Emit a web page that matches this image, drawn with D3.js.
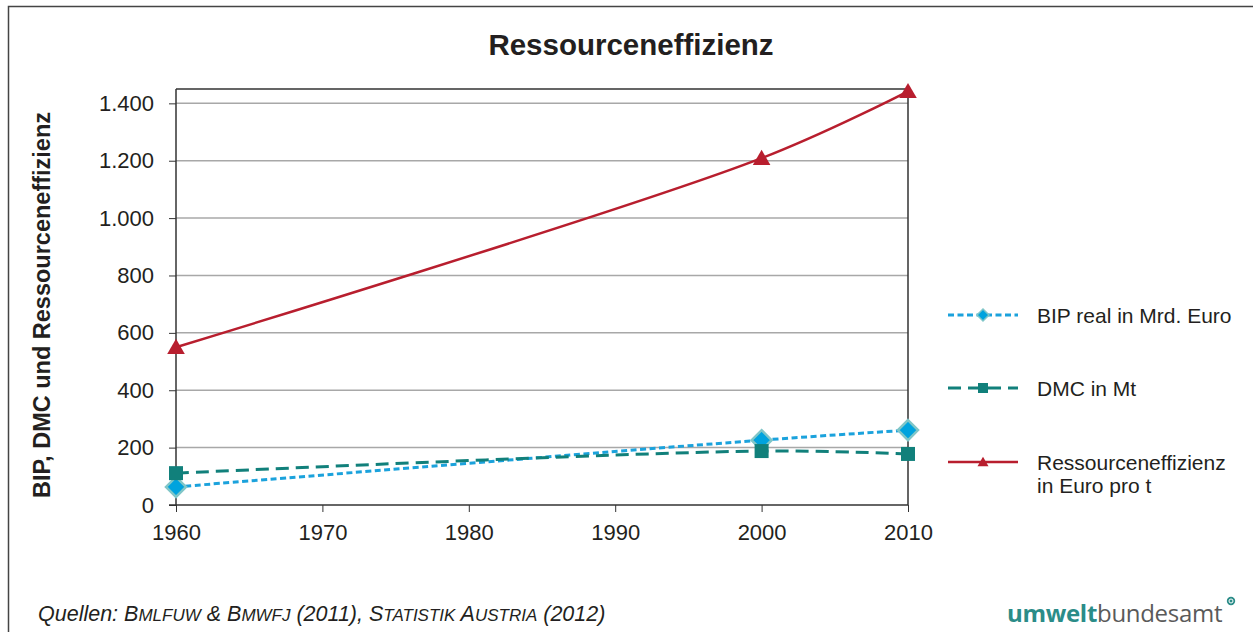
<!DOCTYPE html>
<html>
<head>
<meta charset="utf-8">
<script src="https://cdn.jsdelivr.net/npm/d3@7"></script>
<style>
  body { margin: 0; background: #fff; }
  svg text { font-family: "Liberation Sans", Arial, sans-serif; fill: #231f20; }
</style>
</head>
<body>
<svg id="chart" width="1253" height="632"></svg>
<script>
// Data
var years = [1960, 2000, 2010];
var bipValues = [63, 226, 261];
var dmcValues = [111, 188, 178];
var effValues = [550, 1209, 1442];
var yTicks = [0, 200, 400, 600, 800, 1000, 1200, 1400];
var xTicks = [1960, 1970, 1980, 1990, 2000, 2010];
var seriesNames = ["BIP real in Mrd. Euro", "DMC in Mt", "Ressourceneffizienz"];

var svg = d3.select("#chart");
var plot = { left: 176, right: 908, top: 89, bottom: 505 };

// Colors
var blue = "#1ba2dc";
var blueFill = "#00a3de";
var blueEdge = "#80c6c8";
var teal = "#11807b";
var red = "#b81e2e";
var gridGray = "#a8a8a8";
var axisDark = "#333";

var de = d3.formatLocale({ decimal: ",", thousands: ".", grouping: [3], currency: ["", " €"] });

// Scales
var x = d3.scaleLinear().domain([1960, 2010]).range([plot.left, plot.right]);
var y = d3.scaleLinear().domain([0, 1450]).range([plot.bottom, plot.top]);

// outer frame
svg.append("rect")
   .attr("x", 8.5).attr("y", 6.5)
   .attr("width", 1260).attr("height", 640)
   .style("fill", "none").style("stroke", "#444").style("stroke-width", 1.5);

// title
svg.append("text")
   .text("Ressourceneffizienz")
   .attr("x", 631).attr("y", 55)
   .style("text-anchor", "middle")
   .style("font-size", "29.5px")
   .style("font-weight", "bold");

// gridlines
svg.append("g")
   .selectAll("line")
   .data(yTicks.filter(function(d) { return d > 0; }))
   .enter()
   .append("line")
   .attr("x1", plot.left).attr("x2", plot.right)
   .attr("y1", function(d) { return y(d); })
   .attr("y2", function(d) { return y(d); })
   .style("stroke", gridGray).style("stroke-width", 1.5);

// plot frame top + right
svg.append("path")
   .attr("d", "M" + plot.left + "," + plot.top + "H" + plot.right + "V" + plot.bottom)
   .style("fill", "none").style("stroke", axisDark).style("stroke-width", 1.5);

// axes
var yAxis = svg.append("g")
   .attr("transform", "translate(" + plot.left + ",0)")
   .call(d3.axisLeft(y).tickValues(yTicks).tickSize(7).tickPadding(15).tickFormat(de.format(",")));
var xAxis = svg.append("g")
   .attr("transform", "translate(0," + plot.bottom + ")")
   .call(d3.axisBottom(x).tickValues(xTicks).tickSize(7).tickPadding(12).tickFormat(d3.format("d")));

[yAxis, xAxis].forEach(function(ax) {
  ax.select(".domain").style("stroke", axisDark).style("stroke-width", 1.5);
  ax.selectAll(".tick line").style("stroke", axisDark).style("stroke-width", 1);
  ax.selectAll("text")
    .style("font-size", "22px")
    .style("font-family", "'Liberation Sans', Arial, sans-serif")
    .style("fill", "#231f20");
});
yAxis.select(".domain").attr("d", "M0," + plot.top + "V" + plot.bottom);
xAxis.select(".domain").attr("d", "M" + (plot.left - 7) + ",0H" + plot.right);

// y label
svg.append("text")
   .text("BIP, DMC und Ressourceneffizienz")
   .attr("transform", "translate(50,305) rotate(-90)")
   .style("text-anchor", "middle")
   .style("font-size", "23.5px")
   .style("font-weight", "bold");

// Lines (smoothed like the original)
var line = d3.line()
  .x(function(d) { return x(d.year); })
  .y(function(d) { return y(d.value); })
  .curve(d3.curveCatmullRom.alpha(0.5));

function toPoints(values) {
  return years.map(function(yr, i) { return { year: yr, value: values[i] }; });
}

var series = [
  { name: seriesNames[0], values: toPoints(bipValues), color: blue, dash: "6,3.5", width: 3, marker: "diamond" },
  { name: seriesNames[1], values: toPoints(dmcValues), color: teal, dash: "13,7", width: 3, marker: "square" },
  { name: seriesNames[2], values: toPoints(effValues), color: red, dash: null, width: 2.5, marker: "triangle" }
];

function marker(g, type, size) {
  if (type === "diamond") {
    g.append("path")
     .attr("d", "M0," + (-size) + "L" + size + ",0L0," + size + "L" + (-size) + ",0Z")
     .style("fill", blueFill).style("stroke", blueEdge).style("stroke-width", size / 4);
  } else if (type === "square") {
    g.append("rect")
     .attr("x", -size).attr("y", -size)
     .attr("width", size * 2).attr("height", size * 2)
     .style("fill", teal);
  } else {
    g.append("path")
     .attr("d", "M0," + (-size * 1.05) + "L" + (size * 1.1) + "," + (size * 0.85) + "L" + (-size * 1.1) + "," + (size * 0.85) + "Z")
     .style("fill", red);
  }
}

var markerSize = { diamond: 10, square: 7, triangle: 8 };

series.forEach(function(s) {
  svg.append("path")
     .datum(s.values)
     .attr("d", line)
     .style("fill", "none")
     .style("stroke", s.color)
     .style("stroke-width", s.width)
     .style("stroke-dasharray", s.dash);
  s.values.forEach(function(d) {
    var g = svg.append("g").attr("transform", "translate(" + x(d.year) + "," + y(d.value) + ")");
    marker(g, s.marker, markerSize[s.marker]);
  });
});

// Legend
var legendY = [315, 388, 462];
var legend = svg.selectAll(".legendItem")
  .data(series)
  .enter()
  .append("g")
  .attr("class", "legendItem")
  .attr("transform", function(d, i) { return "translate(948," + legendY[i] + ")"; });

legend.append("line")
  .attr("x1", 0).attr("x2", 70)
  .style("stroke", function(d) { return d.color; })
  .style("stroke-width", function(d) { return d.width; })
  .style("stroke-dasharray", function(d) { return d.dash; });
legend.each(function(d) {
  var g = d3.select(this).append("g").attr("transform", "translate(35,0)");
  marker(g, d.marker, d.marker === "diamond" ? 6 : 5);
});
legend.append("text")
  .attr("x", 89).attr("y", 7.5)
  .style("font-size", "21px")
  .text(function(d) { return d.name; });
svg.append("text")
  .attr("x", 1037).attr("y", 493)
  .style("font-size", "21px")
  .text("in Euro pro t");

// Footer source (small caps by hand)
var src = svg.append("text")
  .attr("x", 38).attr("y", 621)
  .style("font-style", "italic");
var parts = [
  ["Quellen: B", 21.5], ["MLFUW", 17], [" & B", 21.5], ["MWFJ", 17],
  [" (2011), S", 21.5], ["TATISTIK", 17], [" A", 21.5], ["USTRIA", 17], [" (2012)", 21.5]
];
parts.forEach(function(p) {
  src.append("tspan").style("font-size", p[1] + "px").text(p[0]);
});

// logo
var logo = svg.append("text")
  .attr("x", 1007).attr("y", 622)
  .style("font-family", "'Open Sans', sans-serif")
  .style("font-size", "24px")
  .style("letter-spacing", "-0.3px");
logo.append("tspan").text("umwelt").style("font-weight", "bold").style("fill", "#2b8c88");
logo.append("tspan").text("bundesamt").style("fill", "#5a5a5a");
svg.append("circle")
  .attr("cx", 1231).attr("cy", 601).attr("r", 4.2)
  .style("fill", "#2b8c88");
svg.append("circle")
  .attr("cx", 1231).attr("cy", 601).attr("r", 2)
  .style("fill", "none").style("stroke", "#fff").style("stroke-width", 1);
</script>
</body>
</html>
